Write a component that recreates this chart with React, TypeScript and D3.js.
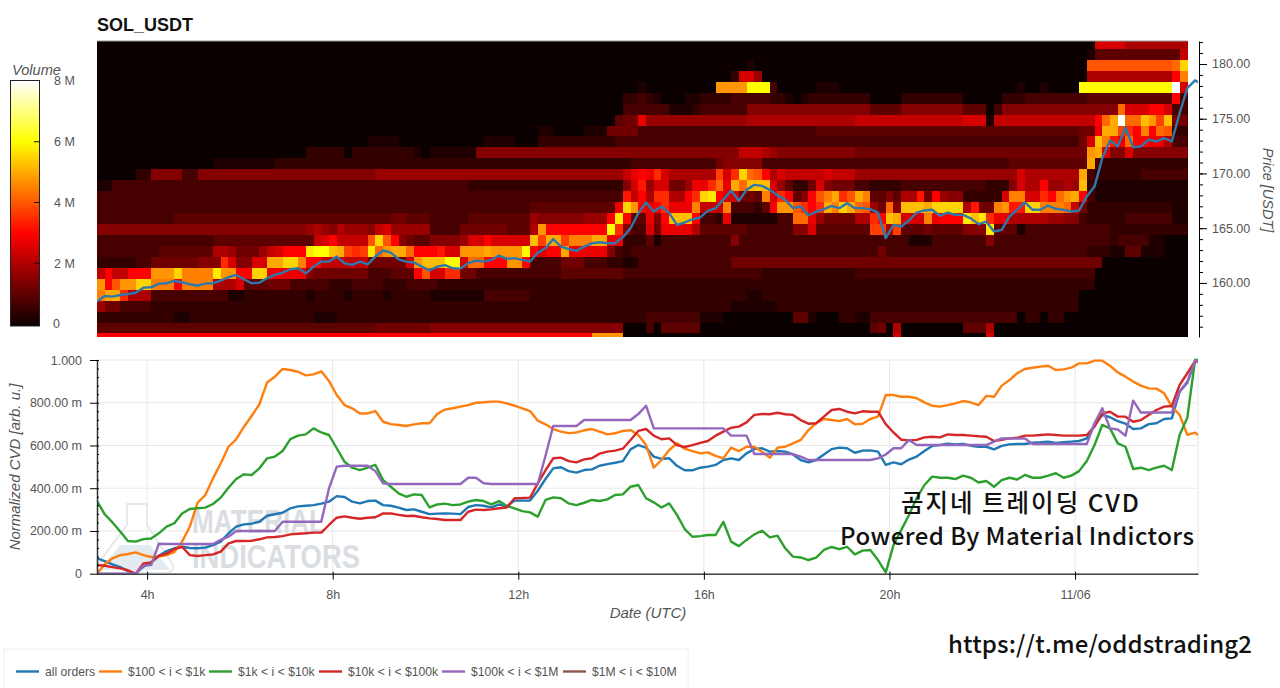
import React, { useEffect, useRef } from "react";
import * as d3 from "d3";

// heatmap volume, one character per 10 minute cell in steps of 0.25 M (base 36)
// rows go from the top price bin down to the clipped bottom bin
const heatLeft = [
  "0", "0", "0", "0", "0", "0", "0", "0", "0",
  "0000000000 0000000000 0000000000 0000011110 000",
  "0000000000 0000000000 0000000222 2202222222 210",
  "0000000000 0000011111 1112222222 2222222222 222",
  "0000022666 6336666666 6666666666 6666667777 777",
  "1133333333 3333333333 3333333333 3333333333 333",
  "3333333333 3333333333 3333333333 3333333333 333",
  "3333333333 3333333333 3333333333 3333333333 333",
  "3333333333 4444444444 4444444444 4444444455 444",
  "6666666666 6666666666 6666666787 6877769a77 777",
  "3333333333 3333344444 444444449a c9999gmgc6 544",
  "3333333344 4444488755 579acccnoo lkfefnhjkk hcc",
  "2222233555 555666ea66 aakkmmicc9 9999955555 ajl",
  "9c99cccjjj miiiinjjcc mmbbbbb655 5555533344 4cg",
  "jcgjjmmiii ciiii888a4 4455533333 2223333222 333",
  "ikke888333 3333333112 2222222122 2212222122 222",
  "7553333222 2222222222 2222222222 2222222222 222",
  "2222222222 1122222222 2222222211 1222222222 222",
  "4444444444 4444444444 4444444444 4444445555 555",
  "cccccccccc cccccccccc cccccccccc cccccccccc ccc",
];
const heatMiddle = [
  "0",
  "0",
  "0000000000 0000000000 0000000000 0000000000 0100000000 00000",
  "0000000000 0000000000 0000000000 0000000002 aa70000000 00000",
  "0000000000 0000000000 0000000100 0000000jjj jooo300000 11100",
  "0000000000 0000000000 0000022321 0001122223 3333221012 22222",
  "0000000000 0000000000 0000033333 3111233333 3666666666 66666",
  "0000000000 0000000000 0000455b77 7777777777 7888888888 88888",
  "0000000000 0000110000 1115555333 3333333333 3333333333 44444",
  "0000000111 1000222222 2222333333 3333333333 3333333333 33333",
  "1111116666 6666666666 6666666666 6666666666 9998766666 66666",
  "2222222222 2222222222 2222223333 3333333566 6663333333 33333",
  "7777777777 7777777777 777779bcbe a888888fae mhgc8a9999 9a999",
  "3333322222 2222222222 222226ad7a a557bbehbk hllla74225 a6555",
  "3333333333 3333333333 33333d9c8e e88cemncaa 554iaec46c gikeg",
  "3333333333 3334444444 4444bmjcbc ebbbi999i3 3324cjjgec ekimk",
  "3333344444 4447666666 777cnc44b6 clllc332b1 1111133hhb 75555",
  "3333555555 4448jccccc cccoe633a5 bbbb844444 433333366a 44444",
  "66667aacaa aaalfkkfii ikkbb22241 3333333336 3333333333 33333",
  "cdaajjjkjj jjocacckbb bbb6323333 3333333333 3333333333 33333",
  "llooahhccc jjc3333555 3332211333 3333333335 5555555555 55555",
  "aaee553333 3333333444 4444433333 3333333333 3332222222 22222",
  "3222222222 2222222222 2222222222 2222222222 2222222222 22222",
  "1111111333 3332222222 2222222222 2222222222 2112222222 22222",
  "2222222222 2222222222 2222222222 2222222221 1111122222 22222",
  "2222222222 2222222222 2222222233 3333311100 0000000441 00022",
  "6666666666 6666666666 6666600030 4444400000 0000000000 00000",
  "cccccccccc cccccccccc cjjjj00000 0000000000 0000000000 00000",
];
const heatRight = [
  "0000000000 0000000000 0000000000 0aaaa88888 888",
  "0000000000 0000000000 0000000000 1444444444 449",
  "0000000000 0000000000 0000000000 gggggggggg ghm",
  "0000000000 0000000000 0000000000 8888888888 8ci",
  "0000000000 0000000000 010010000o oooooooooo owa",
  "2200002222 2222000002 2233333333 4444444444 4c3",
  "6644446666 6666444036 6666666666 6666haaacc a33",
  "9999999999 9999aaa199 9999999999 9chkwhhljf l55",
  "4444444444 4444444444 4444444445 5bkkfecich g22",
  "3333333333 3333333333 3333333335 alidbhccbb 833",
  "5555555555 5555555555 5555555555 jka66a6666 666",
  "3333333333 3333333333 4444444444 k322222222 222",
  "7777777777 7777777777 7a8888888k 3222222333 333",
  "3322223333 3333333222 6a88c7787l 2111111111 111",
  "ki446488d5 c76622222a iiaaechjkc 3111111111 111",
  "hg75h6lllk mmmm8d55ij ddmmiiih95 2222222222 211",
  "88eclkaaai bcccnlnebb 8888877663 2222233333 311",
  "44ff8f4445 4444666n44 4133333333 3332222222 222",
  "3333333111 3333333633 3333333333 3332333311 000",
  "3335333333 3333333333 3333333333 2221144111 000",
  "5555555555 5555555555 5555555555 5500000000 000",
  "3333333333 3333333333 3333333333 3000000000 000",
  "2222222222 2222222222 2222222222 2000000000 000",
  "2222222222 2222222222 2222222220 0000000000 000",
  "2222222222 2222222222 2222222220 0000000000 000",
  "1133333333 3333333333 3022022000 0000000000 000",
  "0045080000 0000444800 0000000000 0000000000 000",
  "00000a0000 0000000a00 0000000000 0000000000 000",
];
const heatWidths = [43, 55, 43];

const volumeStops = [0, 3, 6, 8];
const volumeColors = ["#0a0000", "#ff0000", "#ffff00", "#ffffff"];
const volumeTicks = [0, 2, 4, 6, 8];
const volumeTickLabels = ["0", "2 M", "4 M", "6 M", "8 M"];

const priceTicks = [160, 165, 170, 175, 180];
const priceMinorTicks = d3.range(156, 183);
const cvdTicks = [0, 200, 400, 600, 800, 1000];
const cvdTickLabels = ["0", "200.00 m", "400.00 m", "600.00 m", "800.00 m", "1.000"];
const cvdMinorTicks = d3.range(0, 1001, 40);
const hourTicks = [4, 8, 12, 16, 20, 24];
const hourTickLabels = ["4h", "8h", "12h", "16h", "20h", "11/06"];

// price and CVD are read every 10 minutes from 02:55 UTC
const priceValues = [
  158.29, 158.81, 158.75, 158.9, 158.99, 159.1, 159.57, 159.6, 159.94, 159.97,
  160.18, 160.06, 159.88, 159.76, 159.94, 159.97, 160.21, 160.52, 160.73, 160.34,
  159.97, 160.03, 160.43, 160.73, 160.95, 161.25, 161.34, 160.88, 161.49, 161.95,
  161.95, 162.41, 161.8, 161.65, 161.95, 161.7, 162.41, 162.96, 162.77, 162.16,
  161.95, 161.86, 161.5, 161.13, 161.49, 161.62, 161.34, 161.31, 161.8, 162.04,
  161.95, 162.1, 162.5, 162.2, 162.26, 162.1, 161.95, 162.77, 163.17, 164.0,
  163.32, 163.1, 162.93, 163.32, 163.63, 163.72, 163.63, 163.63, 164.18, 165.0,
  166.37, 167.35, 166.52, 166.98, 166.37, 165.3, 165.52, 165.82, 165.98, 166.59,
  166.83, 167.59, 168.45, 167.5, 168.5, 168.96, 168.87, 168.5, 168.0, 167.59,
  166.83, 166.98, 166.16, 166.52, 166.74, 167.04, 166.83, 167.29, 166.83, 166.83,
  166.74, 166.43, 164.09, 165.3, 165.15, 165.7, 166.43, 166.62, 166.68, 166.13,
  166.43, 166.22, 166.22, 165.9, 165.37, 165.6, 164.7, 164.85, 166.07, 166.68,
  167.35, 166.68, 166.68, 167.07, 166.77, 166.68, 166.52, 166.62, 167.9, 168.8,
  171.4, 173.02, 172.47, 174.2, 172.4, 172.47, 173.08, 172.93, 173.23, 172.93,
  175.5, 177.8, 178.5, 178.1,
];
const allOrders = [
  72, 59, 44, 31, 12, 0, 33, 53, 84, 106,
  119, 126, 120, 119, 122, 134, 150, 189, 220, 231,
  234, 243, 271, 278, 285, 306, 315, 318, 321, 328,
  337, 363, 359, 337, 329, 340, 342, 321, 318, 309,
  298, 301, 290, 279, 281, 282, 281, 279, 312, 321,
  318, 310, 324, 315, 342, 342, 342, 388, 443, 493,
  498, 480, 473, 485, 488, 505, 513, 519, 527, 582,
  602, 590, 548, 537, 540, 505, 484, 484, 496, 501,
  509, 532, 540, 532, 563, 583, 587, 571, 574, 571,
  558, 532, 521, 532, 558, 583, 590, 587, 566, 576,
  577, 571, 509, 521, 512, 534, 548, 574, 598, 602,
  608, 605, 607, 599, 594, 594, 582, 598, 605, 607,
  607, 613, 615, 618, 612, 615, 618, 621, 633, 696,
  743, 732, 714, 702, 677, 680, 700, 704, 724, 727,
  852, 894, 995, 992,
];
const orders100 = [
  0, 44, 72, 87, 92, 100, 87, 78, 80, 87,
  101, 150, 220, 332, 368, 446, 516, 594, 629, 688,
  738, 793, 895, 922, 958, 953, 945, 928, 933, 947,
  902, 836, 789, 774, 750, 750, 761, 711, 700, 696,
  691, 699, 704, 704, 747, 768, 774, 782, 789, 800,
  802, 805, 805, 797, 786, 774, 761, 716, 699, 677,
  665, 658, 661, 671, 677, 665, 652, 657, 668, 672,
  649, 602, 496, 532, 579, 610, 585, 574, 563, 568,
  551, 540, 590, 574, 594, 594, 571, 543, 590, 594,
  610, 626, 672, 704, 724, 719, 714, 724, 699, 702,
  724, 735, 836, 836, 828, 828, 821, 802, 786, 782,
  789, 797, 808, 802, 789, 832, 828, 880, 906, 938,
  958, 964, 969, 973, 953, 956, 964, 984, 984, 997,
  997, 973, 942, 922, 899, 880, 867, 866, 844, 782,
  743, 650, 660, 633,
];
const orders1k = [
  340, 278, 240, 197, 153, 150, 162, 165, 189, 220,
  236, 282, 303, 306, 309, 326, 356, 402, 443, 465,
  462, 493, 540, 548, 574, 630, 646, 652, 680, 661,
  649, 587, 524, 496, 485, 496, 509, 438, 407, 376,
  360, 371, 368, 310, 324, 328, 321, 324, 337, 345,
  340, 324, 340, 317, 306, 293, 287, 267, 345, 357,
  353, 329, 321, 332, 345, 340, 348, 368, 371, 407,
  415, 353, 334, 310, 329, 275, 209, 173, 176, 181,
  181, 243, 150, 129, 158, 184, 201, 170, 178, 119,
  80, 76, 64, 75, 111, 125, 115, 126, 90, 108,
  111, 64, 6, 134, 204, 275, 353, 415, 454, 449,
  449, 443, 459, 449, 427, 434, 407, 438, 449, 441,
  462, 449, 449, 459, 470, 449, 459, 480, 527, 602,
  696, 680, 610, 594, 490, 496, 485, 496, 505, 485,
  649, 730, 1000, 1000,
];
const orders10k = [
  41, 37, 31, 25, 16, 0, 48, 53, 84, 94,
  115, 126, 87, 83, 87, 90, 103, 142, 153, 153,
  154, 161, 170, 172, 176, 184, 187, 189, 192, 192,
  228, 262, 268, 262, 257, 262, 264, 282, 282, 275,
  270, 271, 264, 259, 256, 251, 251, 251, 290, 300,
  298, 301, 306, 310, 353, 354, 356, 423, 484, 540,
  543, 527, 521, 535, 540, 562, 571, 576, 585, 626,
  668, 677, 646, 629, 633, 602, 593, 602, 612, 621,
  646, 665, 683, 688, 708, 743, 747, 746, 753, 746,
  743, 719, 702, 704, 735, 766, 771, 758, 750, 760,
  758, 758, 700, 661, 627, 624, 626, 638, 641, 638,
  652, 649, 649, 646, 643, 641, 621, 627, 633, 636,
  646, 646, 649, 652, 649, 646, 646, 646, 649, 688,
  750, 758, 735, 735, 711, 719, 743, 766, 782, 785,
  883, 938, 995, 989,
];
const orders100k = [
  0, 0, 0, 0, 0, 0, 38, 40, 140, 139,
  139, 139, 139, 139, 139, 139, 158, 173, 200, 200,
  200, 200, 200, 200, 243, 243, 243, 243, 243, 243,
  399, 501, 505, 505, 505, 505, 480, 423, 420, 420,
  420, 420, 420, 420, 420, 420, 420, 420, 449, 449,
  423, 420, 420, 420, 420, 420, 420, 420, 552, 691,
  691, 691, 691, 719, 719, 719, 719, 719, 719, 719,
  747, 786, 680, 680, 680, 680, 680, 680, 680, 680,
  680, 680, 646, 646, 646, 560, 560, 560, 560, 560,
  560, 548, 532, 532, 532, 532, 532, 532, 532, 532,
  532, 540, 558, 587, 587, 626, 602, 602, 602, 602,
  602, 602, 602, 602, 602, 602, 618, 633, 633, 633,
  633, 607, 607, 607, 607, 607, 607, 607, 607, 704,
  774, 680, 675, 646, 810, 754, 754, 754, 754, 754,
  852, 899, 995, 995,
];
const cvdSeries = [allOrders, orders100, orders1k, orders10k, orders100k];
const seriesColors = ["#1f77b4", "#ff7f0e", "#2ca02c", "#d62728", "#9467bd", "#8c564b"];
const seriesLabels = [
  "all orders",
  "$100 < i < $1k",
  "$1k < i < $10k",
  "$10k < i < $100k",
  "$100k < i < $1M",
  "$1M < i < $10M",
];
const legendLineX = [16, 99, 209, 319, 442, 563];

const sansFont = "'Liberation Sans', Arial, sans-serif";
const textColor = "#555";
const startHour = 2.92;
const endHour = 26.65;
const firstPriceBin = 154.38;

const App = () => {
  const ref = useRef<SVGSVGElement>(null);

  useEffect(() => {
    const svg = d3.select(ref.current);
    svg.selectAll("*").remove();

    const x = d3.scaleLinear().domain([startHour, endHour]).range([97, 1198]);
    const yPrice = d3.scaleLinear().domain([155.06, 182.1]).range([337, 41]);
    const yCvd = d3.scaleLinear().domain([0, 1000]).range([573.7, 360]);
    const yVolume = d3.scaleLinear().domain([0, 8]).range([324, 81]);
    const heatColor = d3
      .scaleLinear<string>()
      .domain(volumeStops)
      .range(volumeColors)
      .clamp(true);

    const defs = svg.append("defs");
    defs
      .append("clipPath")
      .attr("id", "heat-clip")
      .append("rect")
      .attr("x", 97)
      .attr("y", 41)
      .attr("width", 1101)
      .attr("height", 296);
    defs
      .append("clipPath")
      .attr("id", "cvd-clip")
      .append("rect")
      .attr("x", 97)
      .attr("y", 358)
      .attr("width", 1101)
      .attr("height", 217);
    const grad = defs
      .append("linearGradient")
      .attr("id", "volume-grad")
      .attr("x1", 0)
      .attr("x2", 0)
      .attr("y1", 1)
      .attr("y2", 0);
    volumeStops.forEach((v, i) => {
      grad
        .append("stop")
        .attr("offset", v / 8)
        .attr("stop-color", volumeColors[i]);
    });

    svg
      .append("text")
      .text("SOL_USDT")
      .attr("x", 97)
      .attr("y", 31)
      .attr("font-family", sansFont)
      .attr("font-weight", 700)
      .attr("font-size", 18)
      .attr("fill", "#111");

    // heatmap
    const rowCount = heatLeft.length;
    const cells: { col: number; row: number; value: number }[] = [];
    [heatLeft, heatMiddle, heatRight].forEach((part, p) => {
      const offset = d3.sum(heatWidths.slice(0, p));
      part.forEach((raw, r) => {
        const clean = raw.replace(/ /g, "");
        const line = clean.padEnd(heatWidths[p], clean[clean.length - 1]);
        for (let c = 0; c < heatWidths[p]; c++) {
          cells.push({
            col: offset + c,
            row: rowCount - 1 - r,
            value: parseInt(line[c], 36) * 0.25,
          });
        }
      });
    });
    const heat = svg
      .append("g")
      .attr("clip-path", "url(#heat-clip)")
      .attr("shape-rendering", "crispEdges");
    heat
      .selectAll("rect")
      .data(cells)
      .enter()
      .append("rect")
      .attr("x", (d) => x(startHour + d.col / 6))
      .attr("width", x(startHour + 1 / 6) - x(startHour) + 0.3)
      .attr("y", (d) => yPrice(firstPriceBin + d.row + 1))
      .attr("height", yPrice(0) - yPrice(1) + 0.3)
      .attr("fill", (d) => heatColor(d.value));
    svg
      .append("line")
      .attr("x1", 97)
      .attr("x2", 1187)
      .attr("y1", 41)
      .attr("y2", 41)
      .attr("stroke", "#999")
      .attr("stroke-width", 1);

    const priceLine = d3
      .line<number>()
      .x((_, i) => x(startHour + i / 6))
      .y((d) => yPrice(d));
    svg
      .append("path")
      .datum(priceValues)
      .attr("clip-path", "url(#heat-clip)")
      .attr("d", priceLine)
      .attr("fill", "none")
      .attr("stroke", "#2f78ab")
      .attr("stroke-width", 2.4)
      .attr("stroke-linejoin", "round");

    // price axis
    const priceAxis = svg.append("g").attr("transform", "translate(1199,0)");
    priceAxis.call(
      d3
        .axisRight(yPrice)
        .tickValues(priceMinorTicks)
        .tickSize(4)
        .tickSizeOuter(0)
        .tickFormat(() => "")
    );
    const priceMajor = svg.append("g").attr("transform", "translate(1199,0)");
    priceMajor.call(
      d3
        .axisRight(yPrice)
        .tickValues(priceTicks)
        .tickSize(8)
        .tickSizeOuter(0)
        .tickPadding(5)
        .tickFormat((d) => (d as number).toFixed(2))
    );
    priceMajor.select(".domain").remove();
    svg
      .append("text")
      .text("Price [USDT]")
      .attr("transform", "translate(1263,190) rotate(90)")
      .attr("text-anchor", "middle")
      .attr("font-style", "italic")
      .attr("font-size", 14.5)
      .attr("font-family", sansFont)
      .attr("fill", textColor);

    // colorbar
    svg
      .append("rect")
      .attr("x", 10.5)
      .attr("y", 80.5)
      .attr("width", 29)
      .attr("height", 245.5)
      .attr("fill", "url(#volume-grad)")
      .attr("stroke", "#222")
      .attr("stroke-width", 1);
    volumeTicks.forEach((v, i) => {
      if (v > 0 && v < 8) {
        svg
          .append("line")
          .attr("x1", 34)
          .attr("x2", 39.5)
          .attr("y1", yVolume(v))
          .attr("y2", yVolume(v))
          .attr("stroke", "#111");
      }
      svg
        .append("text")
        .text(volumeTickLabels[i])
        .attr("x", v === 0 ? 53 : 54)
        .attr("y", yVolume(v))
        .attr("dy", "0.35em")
        .attr("font-size", 12.5)
        .attr("font-family", sansFont)
        .attr("fill", textColor);
    });
    svg
      .append("text")
      .text("Volume")
      .attr("x", 12)
      .attr("y", 75)
      .attr("font-style", "italic")
      .attr("font-size", 14.6)
      .attr("font-family", sansFont)
      .attr("fill", textColor);

    // CVD grid
    const grid = svg.append("g");
    grid
      .selectAll("line.h")
      .data(cvdTicks)
      .enter()
      .append("line")
      .attr("x1", 97)
      .attr("x2", 1198)
      .attr("y1", (d) => yCvd(d))
      .attr("y2", (d) => yCvd(d))
      .attr("stroke", "#e8e8e8");
    grid
      .selectAll("line.v")
      .data(hourTicks)
      .enter()
      .append("line")
      .attr("class", "v")
      .attr("x1", (d) => x(d))
      .attr("x2", (d) => x(d))
      .attr("y1", 360)
      .attr("y2", 573.7)
      .attr("stroke", "#e8e8e8");
    grid
      .append("line")
      .attr("x1", 1198)
      .attr("x2", 1198)
      .attr("y1", 360)
      .attr("y2", 573.7)
      .attr("stroke", "#e8e8e8");

    // watermark
    const mark = svg.append("g");
    mark
      .append("path")
      .attr("d", "M127,504 L147,504 L147,525 L173,565 Q174,573 165,573 L105,573 Q96,573 97,565 L127,525 Z")
      .attr("fill", "none")
      .attr("stroke", "#e6e8eb")
      .attr("stroke-width", 2);
    mark
      .append("path")
      .attr("d", "M120,545 L150,545 L170,570 L100,570 Z")
      .attr("fill", "#e3ebf1");
    ["MATERIAL", "INDICATORS"].forEach((word, i) => {
      mark
        .append("text")
        .text(word)
        .attr("x", 192)
        .attr("y", i === 0 ? 533 : 568)
        .attr("textLength", i === 0 ? 133 : 168)
        .attr("lengthAdjust", "spacingAndGlyphs")
        .attr("font-family", sansFont)
        .attr("font-weight", 700)
        .attr("font-size", 33)
        .attr("fill", "#dadde1");
    });

    // CVD lines
    const cvdLine = d3
      .line<number>()
      .x((_, i) => x(startHour + i / 6))
      .y((d) => yCvd(d));
    const lines = svg.append("g").attr("clip-path", "url(#cvd-clip)");
    cvdSeries.forEach((values, i) => {
      lines
        .append("path")
        .datum(values)
        .attr("d", cvdLine)
        .attr("fill", "none")
        .attr("stroke", seriesColors[i])
        .attr("stroke-width", 2.4)
        .attr("stroke-linejoin", "round");
    });

    // CVD axes
    const leftMinor = svg.append("g").attr("transform", "translate(97,0)");
    leftMinor.call(
      d3
        .axisRight(yCvd)
        .tickValues(cvdMinorTicks)
        .tickSize(2)
        .tickSizeOuter(0)
        .tickFormat(() => "")
    );
    leftMinor.select(".domain").attr("stroke", "#333").attr("stroke-width", 1.5);
    const leftMajor = svg.append("g").attr("transform", "translate(97,0)");
    leftMajor.call(
      d3
        .axisLeft(yCvd)
        .tickValues(cvdTicks)
        .tickSize(7)
        .tickSizeOuter(0)
        .tickPadding(8)
        .tickFormat((_, i) => cvdTickLabels[i])
    );
    leftMajor.select(".domain").remove();
    const bottom = svg.append("g").attr("transform", "translate(0,573.7)");
    bottom.call(
      d3
        .axisBottom(x)
        .tickValues(hourTicks)
        .tickSize(6)
        .tickSizeOuter(0)
        .tickPadding(10)
        .tickFormat((_, i) => hourTickLabels[i])
    );
    bottom.select(".domain").attr("stroke", "#444").attr("stroke-width", 1.5);
    bottom.selectAll(".tick line").attr("y1", -2);
    [priceAxis, priceMajor, leftMajor, bottom].forEach((g) => {
      g.selectAll("text")
        .attr("font-size", 12.5)
        .attr("font-family", sansFont)
        .attr("fill", textColor);
    });
    svg
      .append("text")
      .text("Normalized CVD [arb. u.]")
      .attr("transform", "translate(20,467) rotate(-90)")
      .attr("text-anchor", "middle")
      .attr("font-style", "italic")
      .attr("font-size", 15)
      .attr("font-family", sansFont)
      .attr("fill", textColor);
    svg
      .append("text")
      .text("Date (UTC)")
      .attr("x", 648)
      .attr("y", 618)
      .attr("text-anchor", "middle")
      .attr("font-style", "italic")
      .attr("font-size", 15)
      .attr("font-family", sansFont)
      .attr("fill", textColor);

    // legend
    svg
      .append("rect")
      .attr("x", 4)
      .attr("y", 649)
      .attr("width", 684)
      .attr("height", 45)
      .attr("fill", "#fff")
      .attr("stroke", "#f0f0f0");
    seriesLabels.forEach((label, i) => {
      svg
        .append("line")
        .attr("x1", legendLineX[i])
        .attr("x2", legendLineX[i] + 23)
        .attr("y1", 671.5)
        .attr("y2", 671.5)
        .attr("stroke", seriesColors[i])
        .attr("stroke-width", 2.4);
      svg
        .append("text")
        .text(label)
        .attr("x", legendLineX[i] + 29)
        .attr("y", 671.5)
        .attr("dy", "0.35em")
        .attr("font-size", 12.2)
        .attr("font-family", sansFont)
        .attr("fill", textColor);
    });

    // pasted captions
    svg
      .append("text")
      .text("곰지네 트레이딩 CVD")
      .attr("x", 901)
      .attr("y", 512)
      .attr("textLength", 238)
      .attr("font-family", "'Noto Sans CJK KR', sans-serif")
      .attr("font-weight", 500)
      .attr("font-size", 24.5)
      .attr("fill", "#111");
    svg
      .append("text")
      .text("Powered By Material Indictors")
      .attr("x", 840)
      .attr("y", 545)
      .attr("textLength", 354)
      .attr("font-family", "'Noto Sans CJK KR', 'Noto Sans', sans-serif")
      .attr("font-weight", 500)
      .attr("font-size", 24)
      .attr("fill", "#111");
    svg
      .append("text")
      .text("https://t.me/oddstrading2")
      .attr("x", 948)
      .attr("y", 653)
      .attr("textLength", 304)
      .attr("font-family", "'Noto Sans CJK KR', 'Noto Sans', sans-serif")
      .attr("font-weight", 500)
      .attr("font-size", 24)
      .attr("fill", "#111");
  }, []);

  return (
    <svg
      ref={ref}
      width={1280}
      height={688}
      style={{ position: "fixed", left: 0, top: 0, background: "#fff" }}
    ></svg>
  );
};

export default App;
